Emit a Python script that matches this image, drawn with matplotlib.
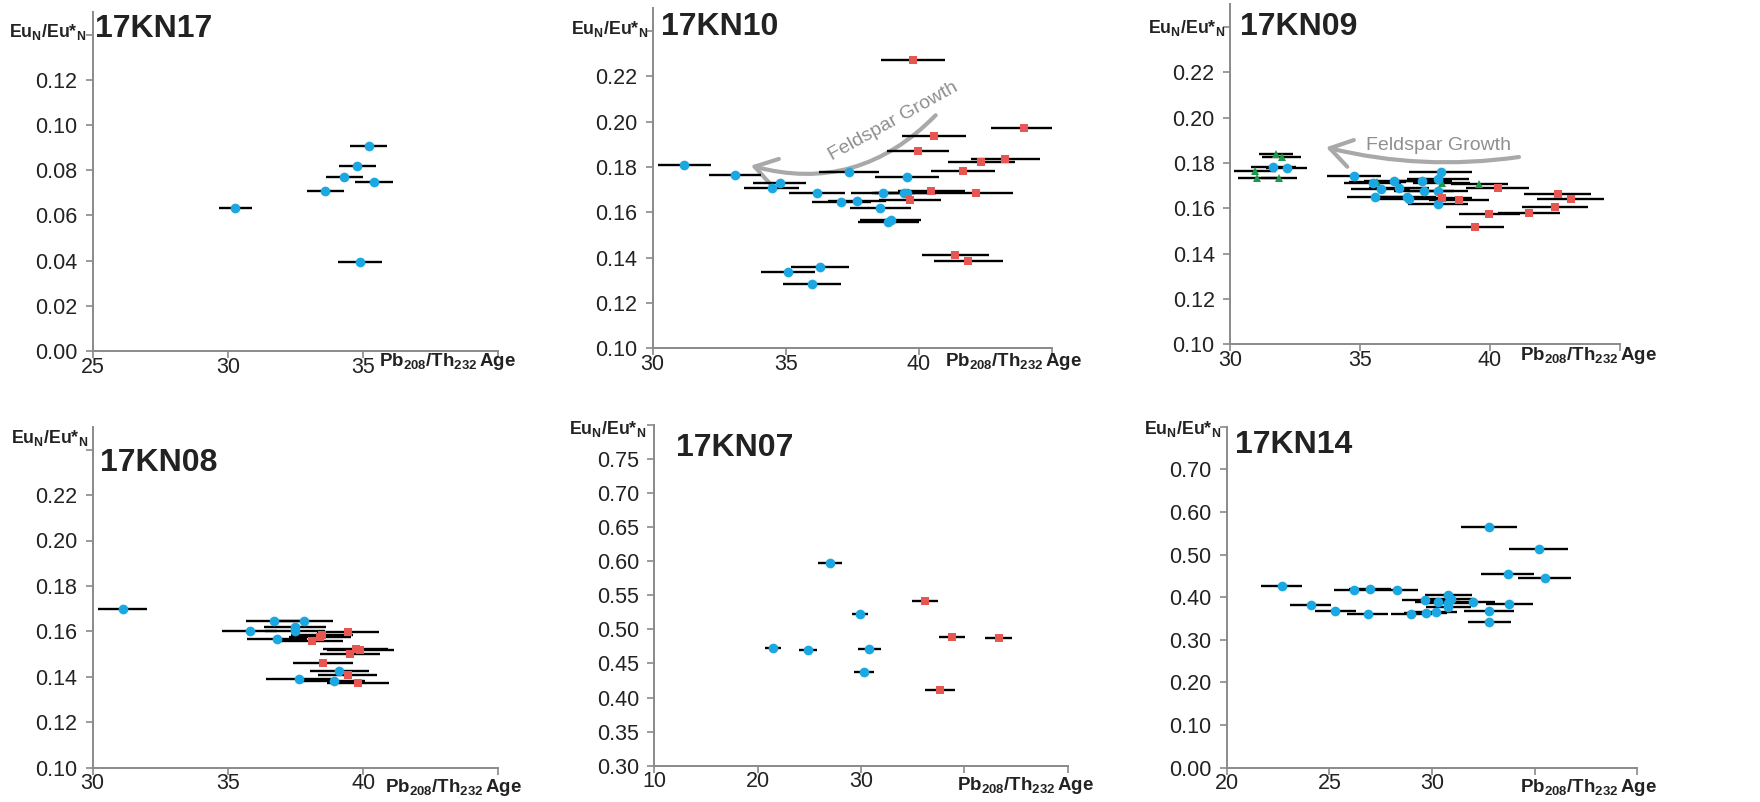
#!/usr/bin/env python3

'''Eu anomaly vs Pb208/Th232 age, six samples'''

import matplotlib
matplotlib.use('Agg')
import matplotlib.pyplot as plt
from matplotlib.patches import FancyArrowPatch

plt.rcParams['font.family'] = ['Liberation Sans', 'DejaVu Sans']
plt.rcParams['mathtext.fontset'] = 'custom'
plt.rcParams['mathtext.rm'] = 'Liberation Sans'
plt.rcParams['mathtext.bf'] = 'Liberation Sans:bold'

W, H = 1760, 802

# ---- data ----
# 17KN17
kn17_blue_x = [30.28, 33.60, 34.30, 34.79, 35.20, 35.41, 34.89]
kn17_blue_y = [0.0631, 0.0707, 0.0771, 0.0817, 0.0908, 0.0746, 0.0395]
kn17_blue_e = [0.62, 0.68, 0.68, 0.67, 0.68, 0.70, 0.80]

# 17KN10
kn10_blue_x = [31.19, 33.10, 34.78, 34.48, 36.18, 37.38, 37.09, 37.68, 38.65,
               38.56, 39.56, 39.46, 39.56, 38.94, 38.86, 35.09, 36.29, 35.99]
kn10_blue_y = [0.1810, 0.1766, 0.1729, 0.1706, 0.1687, 0.1778, 0.1644, 0.1651, 0.1687,
               0.1618, 0.1756, 0.1684, 0.1687, 0.1568, 0.1559, 0.1338, 0.1360, 0.1284]
kn10_blue_e = [0.99, 0.98, 1.00, 1.03, 1.06, 1.14, 1.12, 1.10, 1.20,
               1.15, 1.20, 1.20, 1.20, 1.15, 1.15, 1.00, 1.08, 1.10]
kn10_red_x = [39.78, 40.59, 39.96, 43.96, 43.25, 42.36, 41.66, 40.48, 39.66, 42.15, 41.38, 41.86]
kn10_red_y = [0.2274, 0.1938, 0.1872, 0.1972, 0.1835, 0.1821, 0.1781, 0.1693, 0.1654, 0.1687, 0.1412, 0.1384]
kn10_red_e = [1.20, 1.20, 1.17, 1.24, 1.30, 1.27, 1.20, 1.25, 1.17, 1.39, 1.25, 1.30]

# 17KN09
kn09_green_x = [31.77, 31.99, 30.96, 31.05, 31.88, 35.67, 38.14, 39.59]
kn09_green_y = [0.1840, 0.1828, 0.1765, 0.1735, 0.1735, 0.1718, 0.1710, 0.1706]
kn09_green_e = [0.65, 0.75, 0.80, 0.75, 0.70, 1.10, 1.10, 1.10]
kn09_blue_x = [31.67, 32.18, 34.78, 35.49, 35.79, 35.59, 36.31, 36.49,
               36.79, 36.87, 37.38, 37.47, 37.99, 38.10, 37.99, 37.99]
kn09_blue_y = [0.1784, 0.1776, 0.1743, 0.1713, 0.1685, 0.1650, 0.1722, 0.1690,
               0.1649, 0.1641, 0.1720, 0.1678, 0.1729, 0.1762, 0.1676, 0.1619]
kn09_blue_e = [0.85, 0.80, 1.04, 1.10, 1.15, 1.10, 1.15, 1.15,
               1.15, 1.15, 1.15, 1.15, 1.20, 1.20, 1.15, 1.15]
kn09_red_x = [38.14, 38.81, 40.29, 39.97, 39.42, 41.50, 42.60, 42.50, 43.10]
kn09_red_y = [0.1647, 0.1637, 0.1688, 0.1574, 0.1518, 0.1578, 0.1663, 0.1606, 0.1640]
kn09_red_e = [1.15, 1.14, 1.20, 1.17, 1.13, 1.20, 1.28, 1.26, 1.29]

# 17KN08
kn08_blue_x = [31.11, 35.80, 36.72, 37.80, 37.49, 37.49, 36.81, 37.62, 38.91, 39.12]
kn08_blue_y = [0.1697, 0.1602, 0.1644, 0.1647, 0.1621, 0.1603, 0.1566, 0.1389, 0.1383, 0.1427]
kn08_blue_e = [0.90, 1.02, 1.05, 1.10, 1.15, 1.10, 1.10, 1.20, 1.15, 1.10]
kn08_red_x = [39.43, 38.48, 38.42, 38.11, 39.72, 39.90, 39.51, 38.52, 39.43, 39.81]
kn08_red_y = [0.1597, 0.1584, 0.1574, 0.1558, 0.1521, 0.1518, 0.1500, 0.1462, 0.1406, 0.1374]
kn08_red_e = [1.15, 1.15, 1.15, 1.15, 1.20, 1.25, 1.10, 1.10, 1.10, 1.15]

# 17KN07
kn07_blue_x = [21.48, 24.87, 27.00, 29.90, 30.81, 30.29]
kn07_blue_y = [0.4724, 0.4704, 0.5973, 0.5233, 0.4709, 0.4376]
kn07_blue_e = [0.80, 0.85, 1.20, 0.80, 1.10, 1.00]
kn07_red_x = [36.19, 38.81, 37.68, 43.32]
kn07_red_y = [0.5419, 0.4890, 0.4112, 0.4876]
kn07_red_e = [1.25, 1.30, 1.45, 1.30]

# 17KN14
kn14_blue_x = [22.69, 24.09, 25.29, 26.19, 26.98, 26.88, 28.28, 28.98, 29.66, 29.69, 30.18, 30.28,
               30.80, 30.76, 30.91, 30.80, 31.98, 32.78, 32.78, 32.78, 33.69, 33.77, 35.19, 35.49]
kn14_blue_y = [0.4261, 0.3816, 0.3667, 0.4160, 0.4199, 0.3597, 0.4175, 0.3612, 0.3940, 0.3620, 0.3659, 0.3894,
               0.4058, 0.3855, 0.3956, 0.3761, 0.3886, 0.5653, 0.3683, 0.3409, 0.4535, 0.3839, 0.5129, 0.4441]
kn14_blue_e = [1.00, 1.00, 1.00, 0.97, 1.00, 1.00, 1.05, 1.00, 1.10, 1.05, 1.05, 1.10,
               1.15, 1.10, 1.15, 1.10, 1.10, 1.36, 1.20, 1.05, 1.30, 1.15, 1.44, 1.30]

BLUE = '#1ba7e1'
RED = '#e85652'
GREEN = '#1b9a4b'
SPINE = '#8a8a8a'
TXT = '#222222'
ARROW = '#a9a9a9'


def fx(x):
    return x / W


def fy(y):
    return 1 - y / H


def make_ax(fig, left, right, top, bottom):
    '''axes from pixel box (y measured from top)'''
    ax = fig.add_axes([fx(left), fy(bottom), (right - left) / W, (bottom - top) / H])
    for s in ['top', 'right']:
        ax.spines[s].set_visible(False)
    for s in ['left', 'bottom']:
        ax.spines[s].set_color(SPINE)
        ax.spines[s].set_linewidth(1.4)
    ax.tick_params(direction='out', length=5, width=1.2, color=SPINE,
                   labelsize=15.5, labelcolor=TXT)
    ax.tick_params(axis='y', pad=6)
    ax.tick_params(axis='x', pad=-1)
    ax.patch.set_alpha(0)
    return ax


def set_ticks(ax, xt, xhide, yt, yhide, yfmt):
    ax.set_xticks(xt)
    ax.set_xticklabels(['' if v in xhide else '{:d}'.format(v) for v in xt])
    ax.set_yticks(yt)
    ax.set_yticklabels(['' if v in yhide else yfmt.format(v) for v in yt])


def series(ax, x, y, e, color, marker, ms):
    ax.errorbar(x, y, xerr=e, fmt='none', ecolor='black', elinewidth=1.7, capsize=0, zorder=2)
    ax.plot(x, y, linestyle='none', marker=marker, color=color, markersize=ms,
            markeredgewidth=0, zorder=3)


def blue(ax, x, y, e):
    series(ax, x, y, e, BLUE, 'o', 7.0)


def red(ax, x, y, e):
    series(ax, x, y, e, RED, 's', 6.2)


def green(ax, x, y, e):
    series(ax, x, y, e, GREEN, '^', 6.4)


def labels(fig, title, tpos, ypos, xpos):
    fig.text(fx(tpos[0]), fy(tpos[1]), title, fontsize=23, fontweight='bold',
             color=TXT, ha='left', va='center')
    fig.text(fx(ypos[0]), fy(ypos[1]), r'$\mathbf{Eu_{N}/Eu{*}_{N}}$', fontsize=12.8,
             color=TXT, ha='left', va='baseline')
    fig.text(fx(xpos[0]), fy(xpos[1]), r'$\mathbf{Pb_{208}/Th_{232}\!\ Age}$', fontsize=13.5,
             color=TXT, ha='left', va='center')


def feldspar(ax, a, b, rad, tpos, rot):
    arr = FancyArrowPatch(a, b, connectionstyle='arc3,rad={}'.format(rad),
                          arrowstyle='->,head_length=0.7,head_width=0.45',
                          mutation_scale=22, color=ARROW, linewidth=3, zorder=1)
    ax.add_patch(arr)
    ax.text(tpos[0], tpos[1], 'Feldspar Growth', color='#8f8f8f', fontsize=14,
            rotation=rot, rotation_mode='anchor', ha='center', va='center', zorder=1)


fig = plt.figure(figsize=(W / 100, H / 100), dpi=100)

# 17KN17
ax = make_ax(fig, 92.7, 498.3, 12, 351)
blue(ax, kn17_blue_x, kn17_blue_y, kn17_blue_e)
ax.set_xlim(25, 40)
ax.set_ylim(0, 0.15)
set_ticks(ax, [25, 30, 35, 40], [40], [0, 0.02, 0.04, 0.06, 0.08, 0.10, 0.12, 0.14], [0.14], '{:.2f}')
labels(fig, '17KN17', (95, 29), (9, 37), (379, 362))

# 17KN10
ax = make_ax(fig, 652.7, 1051.7, 8.3, 348.3)
blue(ax, kn10_blue_x, kn10_blue_y, kn10_blue_e)
red(ax, kn10_red_x, kn10_red_y, kn10_red_e)
ax.set_xlim(30, 45)
ax.set_ylim(0.10, 0.25)
set_ticks(ax, [30, 35, 40, 45], [45], [0.10, 0.12, 0.14, 0.16, 0.18, 0.20, 0.22, 0.24], [0.24], '{:.2f}')
feldspar(ax, (40.71, 0.2037), (33.59, 0.1809), -0.3, (39.03, 0.2003), 29)
labels(fig, '17KN10', (661, 27), (571, 34), (945, 362))

# 17KN09
ax = make_ax(fig, 1230, 1620, 4.3, 344.3)
green(ax, kn09_green_x, kn09_green_y, kn09_green_e)
blue(ax, kn09_blue_x, kn09_blue_y, kn09_blue_e)
red(ax, kn09_red_x, kn09_red_y, kn09_red_e)
ax.set_xlim(30, 45)
ax.set_ylim(0.10, 0.25)
set_ticks(ax, [30, 35, 40, 45], [45], [0.10, 0.12, 0.14, 0.16, 0.18, 0.20, 0.22, 0.24], [0.24], '{:.2f}')
feldspar(ax, (41.22, 0.1828), (33.59, 0.1872), -0.1, (38.01, 0.1875), 0)
labels(fig, '17KN09', (1240, 27), (1148, 33), (1520, 356))

# 17KN08
ax = make_ax(fig, 92.7, 498.3, 426.9, 767.7)
blue(ax, kn08_blue_x, kn08_blue_y, kn08_blue_e)
red(ax, kn08_red_x, kn08_red_y, kn08_red_e)
ax.set_xlim(30, 45)
ax.set_ylim(0.10, 0.25)
set_ticks(ax, [30, 35, 40, 45], [45], [0.10, 0.12, 0.14, 0.16, 0.18, 0.20, 0.22, 0.24], [0.24], '{:.2f}')
labels(fig, '17KN08', (100, 463), (11, 443), (385, 787))

# 17KN07
ax = make_ax(fig, 654.3, 1067.7, 425, 765.7)
blue(ax, kn07_blue_x, kn07_blue_y, kn07_blue_e)
red(ax, kn07_red_x, kn07_red_y, kn07_red_e)
ax.set_xlim(10, 50)
ax.set_ylim(0.30, 0.80)
set_ticks(ax, [10, 20, 30, 40, 50], [40, 50],
          [0.30, 0.35, 0.40, 0.45, 0.50, 0.55, 0.60, 0.65, 0.70, 0.75, 0.80], [0.80], '{:.2f}')
labels(fig, '17KN07', (676, 448), (569, 434), (957, 786))

# 17KN14
ax = make_ax(fig, 1226.7, 1637.3, 426.7, 767.7)
blue(ax, kn14_blue_x, kn14_blue_y, kn14_blue_e)
ax.set_xlim(20, 40)
ax.set_ylim(0, 0.80)
set_ticks(ax, [20, 25, 30, 35, 40], [35, 40],
          [0, 0.1, 0.2, 0.3, 0.4, 0.5, 0.6, 0.7, 0.8], [0.8], '{:.2f}')
labels(fig, '17KN14', (1235, 445), (1144, 434), (1520, 787))

fig.savefig('out.png', dpi=100)
